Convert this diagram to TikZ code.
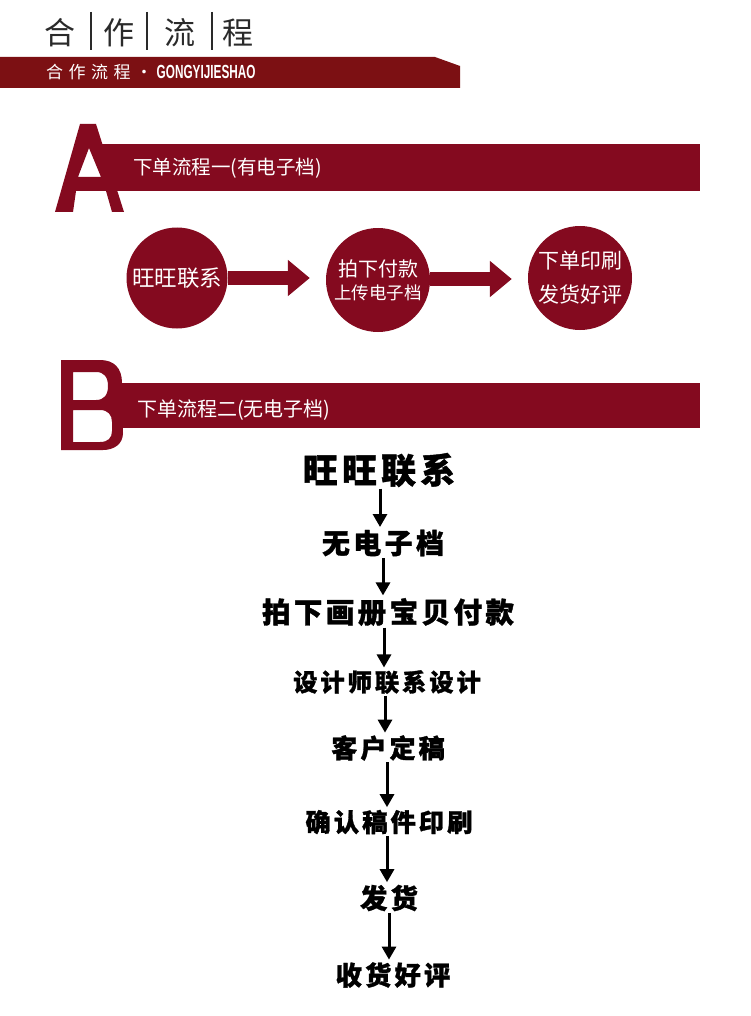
\documentclass[tikz,border=0pt]{standalone}
\usepackage{fontspec}
\usetikzlibrary{arrows.meta}
\newfontfamily\cjk{Noto Sans CJK SC}
\newfontfamily\cjksp{Noto Sans CJK SC}[LetterSpace=12, BoldFeatures={FakeBold=1.2}]
\newfontfamily\latinsans{Liberation Sans}
\definecolor{wine}{HTML}{840A1F}
\definecolor{banner}{HTML}{7C1013}
\definecolor{titlegray}{HTML}{2A2A2A}
\tikzset{
  bar/.style={fill=wine, draw=none},
  bartext/.style={text=white, anchor=west, inner sep=0, font=\cjk\fontsize{#1}{#1}\selectfont},
  letterfill/.style={fill=wine, even odd rule},
  disc/.style={circle, fill=wine, draw=none, minimum size=#1, inner sep=0, text=white, align=center},
  fatarrow/.style={draw=wine, line width=14pt, -{Triangle[width=35pt,length=22pt]}, shorten >=16pt},
  flowtext/.style={inner sep=0, font=\cjksp\bfseries\fontsize{#1}{#1}\selectfont},
  flow/.style={line width=3pt, -{Triangle[width=14pt,length=13pt]}, shorten <=1.5pt, shorten >=2.5pt},
  titlechar/.style={text=titlegray, inner sep=0, font=\cjk\fontsize{31}{31}\selectfont},
  titlebar/.style={draw=titlegray, line width=1.6pt}
}
\begin{document}
\begin{tikzpicture}[x=1pt,y=-1pt]
\useasboundingbox (0,0) rectangle (750,1016);
\fill[white] (0,0) rectangle (750,1016);

% header title
\node[titlechar] (t1) at (60,33) {合};
\node[titlechar] (t2) at (119,33) {作};
\node[titlechar] (t3) at (180,33) {流};
\node[titlechar] (t4) at (238,33) {程};
\draw[titlebar] (91,12) -- (91,50);
\draw[titlebar] (147,12) -- (147,50);
\draw[titlebar] (212,12) -- (212,50);

% banner
\fill[banner] (0,57) -- (435,57) -- (460,66) -- (460,88) -- (0,88) -- cycle;
\node[text=white, anchor=west, inner sep=0] (bt) at (46,72)
  {\cjk\fontsize{17}{17}\selectfont 合\hspace{5.5pt}作\hspace{5.5pt}流\hspace{5.5pt}程\hspace{5pt}\textbullet\hspace{4pt}\latinsans\bfseries\fontsize{19}{19}\selectfont\scalebox{0.62}[1]{GONGYIJIESHAO}};

% section A
\fill[bar] (102,144) rectangle (700,191);
\fill[letterfill] (55,212) -- (80,124) -- (96,124) -- (124,212) -- (112,212) -- (106,191) -- (76,191) -- (73,212) -- cycle
  (89,148) -- (101,177) -- (78,177) -- cycle;
\node[bartext=19.5] (Atext) at (133,168) {下单流程一(有电子档)};

\node[disc=101pt, font=\cjk\fontsize{22.5}{22.5}\selectfont] (c1) at (177,278) {旺旺联系};
\node[disc=104pt] (c2) at (378,280) {{\cjk\fontsize{20}{20}\selectfont 拍下付款}\\[6pt]{\cjk\fontsize{17.5}{17.5}\selectfont 上传电子档}};
\node[disc=104pt, font=\cjk\fontsize{21}{21}\selectfont] (c3) at (580,278) {下单印刷\\[13pt]发货好评};
\draw[fatarrow] (c1.east) -- (c1.east -| c2.west);
\draw[fatarrow] ([yshift=1pt]c2.east) -- ([yshift=1pt]c2.east -| c3.west);

% section B
\fill[bar] (115,383) rectangle (700,428);
\fill[letterfill] (61,360) -- (100,360) .. controls (114,360) and (122,368) .. (122,383) -- (123,433) .. controls (123,444) and (114,450) .. (103,450) -- (61,450) -- cycle
  (73,372) -- (96,372) .. controls (104,372) and (108,377) .. (108,386) .. controls (108,395) and (104,400) .. (96,400) -- (73,400) -- cycle
  (73,410) -- (100,410) .. controls (108,410) and (112,415) .. (112,422) -- (112,431) .. controls (112,438) and (108,442) .. (100,442) -- (73,442) -- cycle;
\node[bartext=20] (Btext) at (137,410) {下单流程二(无电子档)};

% flow
\node[flowtext=35] (f1) at (379,470) {旺旺联系};
\node[flowtext=28] (f2) at (383,543) {无电子档};
\node[flowtext=28.5] (f3) at (388,612) {拍下画册宝贝付款};
\node[flowtext=24.3] (f4) at (387,682) {设计师联系设计};
\node[flowtext=26] (f5) at (388,748) {客户定稿};
\node[flowtext=25.3] (f6) at (389,822) {确认稿件印刷};
\node[flowtext=27.3] (f7) at (389,898) {发货};
\node[flowtext=26.3] (f8) at (393,975) {收货好评};

\draw[flow] (f1.south -| 380,0) -- (f2.north -| 380,0);
\draw[flow] (f2.south -| 383,0) -- (f3.north -| 383,0);
\draw[flow] (f3.south -| 384,0) -- (f4.north -| 384,0);
\draw[flow] (f4.south -| 385,0) -- (f5.north -| 385,0);
\draw[flow] (f5.south -| 387,0) -- (f6.north -| 387,0);
\draw[flow] (f6.south -| 387,0) -- (f7.north -| 387,0);
\draw[flow] (f7.south -| 389,0) -- (f8.north -| 389,0);
\end{tikzpicture}
\end{document}
